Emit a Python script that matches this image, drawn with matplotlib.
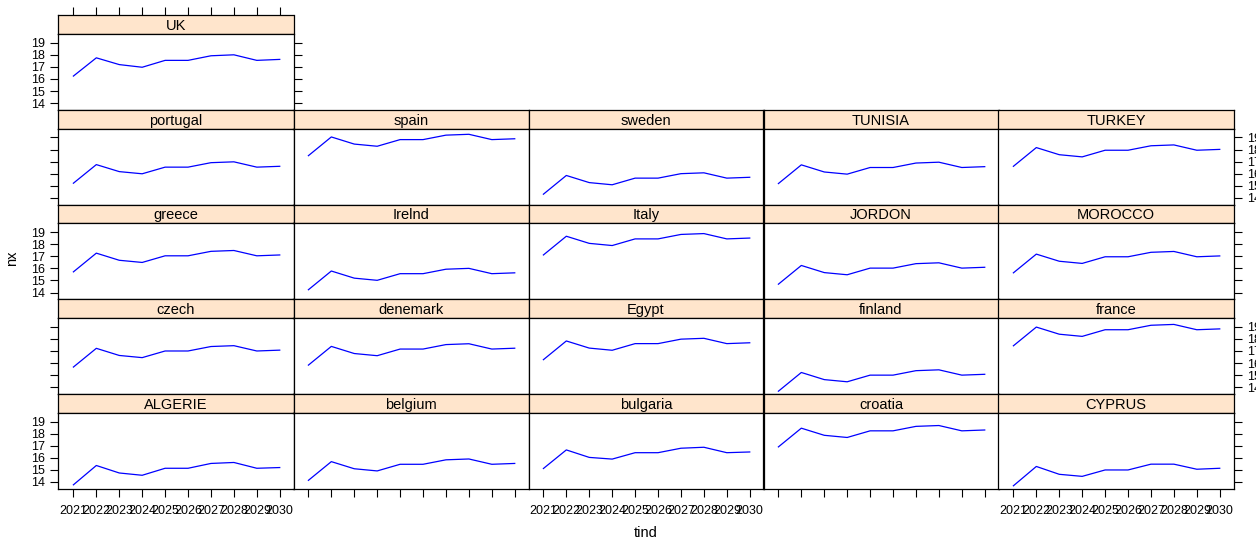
import matplotlib
matplotlib.use("Agg")
import matplotlib.pyplot as plt

plt.rcParams["font.family"] = ["Liberation Sans", "DejaVu Sans"]

# Données : années et séries nx par pays
tind = [2021, 2022, 2023, 2024, 2025, 2026, 2027, 2028, 2029, 2030]

ALGERIE = [13.76, 15.36, 14.74, 14.55, 15.13, 15.13, 15.53, 15.61, 15.13, 15.19]
belgium = [14.13, 15.68, 15.09, 14.91, 15.46, 15.46, 15.83, 15.90, 15.46, 15.53]
bulgaria = [15.11, 16.65, 16.03, 15.89, 16.42, 16.42, 16.79, 16.87, 16.42, 16.48]
croatia = [16.90, 18.45, 17.86, 17.68, 18.23, 18.23, 18.60, 18.67, 18.23, 18.30]
CYPRUS = [13.68, 15.28, 14.63, 14.46, 14.99, 14.99, 15.47, 15.47, 15.05, 15.13]
czech = [15.67, 17.22, 16.63, 16.45, 17.00, 17.00, 17.37, 17.44, 17.00, 17.07]
denemark = [15.83, 17.38, 16.79, 16.61, 17.16, 17.16, 17.53, 17.60, 17.16, 17.23]
Egypt = [16.28, 17.83, 17.24, 17.06, 17.61, 17.61, 17.98, 18.05, 17.61, 17.68]
finland = [13.67, 15.22, 14.63, 14.45, 15.00, 15.00, 15.37, 15.44, 15.00, 15.07]
france = [17.43, 18.98, 18.39, 18.21, 18.76, 18.76, 19.13, 19.20, 18.76, 18.83]
greece = [15.71, 17.26, 16.67, 16.49, 17.04, 17.04, 17.41, 17.48, 17.04, 17.11]
Irelnd = [14.23, 15.78, 15.19, 15.01, 15.56, 15.56, 15.93, 16.00, 15.56, 15.63]
Italy = [17.11, 18.66, 18.07, 17.89, 18.44, 18.44, 18.81, 18.88, 18.44, 18.51]
JORDON = [14.69, 16.24, 15.65, 15.47, 16.02, 16.02, 16.39, 16.46, 16.02, 16.09]
MOROCCO = [15.63, 17.18, 16.59, 16.41, 16.96, 16.96, 17.33, 17.40, 16.96, 17.03]
portugal = [15.21, 16.75, 16.17, 15.99, 16.54, 16.54, 16.91, 16.98, 16.54, 16.61]
spain = [17.49, 19.04, 18.45, 18.27, 18.82, 18.82, 19.19, 19.26, 18.82, 18.89]
sweden = [14.30, 15.85, 15.26, 15.08, 15.63, 15.63, 16.00, 16.07, 15.63, 15.70]
TUNISIA = [15.18, 16.73, 16.14, 15.96, 16.51, 16.51, 16.88, 16.95, 16.51, 16.58]
TURKEY = [16.61, 18.16, 17.57, 17.39, 17.94, 17.94, 18.31, 18.38, 17.94, 18.01]
UK = [16.24, 17.75, 17.19, 16.97, 17.54, 17.54, 17.92, 18.00, 17.54, 17.62]

yticks = [14, 15, 16, 17, 18, 19]

# Disposition lattice : ligne du haut en premier
rows = [
    [("UK", UK)],
    [("portugal", portugal), ("spain", spain), ("sweden", sweden),
     ("TUNISIA", TUNISIA), ("TURKEY", TURKEY)],
    [("greece", greece), ("Irelnd", Irelnd), ("Italy", Italy),
     ("JORDON", JORDON), ("MOROCCO", MOROCCO)],
    [("czech", czech), ("denemark", denemark), ("Egypt", Egypt),
     ("finland", finland), ("france", france)],
    [("ALGERIE", ALGERIE), ("belgium", belgium), ("bulgaria", bulgaria),
     ("croatia", croatia), ("CYPRUS", CYPRUS)],
]

W, H = 1256, 539
fig = plt.figure(figsize=(W / 100, H / 100), dpi=100)


def rect(x, y, w, h):
    return [x / W, 1 - (y + h) / H, w / W, h / H]


left, colw = 58.5, 235.0
top, rowh, striph = 15.3, 94.7, 18.5
xlim = (2020.35, 2030.6)
ylim = (13.43, 19.74)
tick_kw = dict(direction="out", length=6, width=0.8, labelsize=9, colors="black")

n_rows = len(rows)
for r, row in enumerate(rows):
    ytop = top + r * rowh
    for c, (name, vals) in enumerate(row):
        x0 = left + c * colw
        # bandeau (strip)
        sax = fig.add_axes(rect(x0, ytop, colw, striph))
        sax.set_facecolor("#FFE5CC")
        sax.set_xlim(xlim)
        sax.set_ylim(0, 1)
        sax.text(0.5, 0.42, name, transform=sax.transAxes, ha="center",
                 va="center", fontsize=10.5)
        sax.set_yticks([])
        if r == 0:
            sax.set_xticks(tind)
            sax.tick_params(axis="x", bottom=False, top=True, labelbottom=False,
                            labeltop=False, **tick_kw)
        else:
            sax.set_xticks([])
        for sp in sax.spines.values():
            sp.set_linewidth(0.9)

        # panneau
        ax = fig.add_axes(rect(x0, ytop + striph, colw, rowh - striph))
        ax.plot(tind, vals, color="blue", lw=0.9)
        ax.set_xlim(xlim)
        ax.set_ylim(ylim)
        for sp in ax.spines.values():
            sp.set_linewidth(0.9)

        # axe y : gauche sur la 1re colonne, droite sur la dernière
        ax.set_yticks(yticks)
        odd = (r % 2 == 0)
        show_left = (c == 0)
        show_right = (c == len(row) - 1)
        ax.tick_params(axis="y", left=show_left, right=show_right,
                       labelleft=show_left and odd,
                       labelright=show_right and not odd, pad=4, **tick_kw)

        # axe x : seulement en bas
        ax.set_xticks(tind)
        if r == n_rows - 1:
            ax.tick_params(axis="x", bottom=True, top=False,
                           labelbottom=(c % 2 == 0), pad=6, **tick_kw)
            ax.set_xticklabels([str(t) for t in tind])
        else:
            ax.tick_params(axis="x", bottom=False, top=False, labelbottom=False)

fig.text(12 / W, 1 - 258 / H, "nx", rotation=90, ha="center", va="center",
         fontsize=10.5)
fig.text(646 / W, 1 - 533 / H, "tind", ha="center", va="center", fontsize=10.5)

fig.savefig("out.png", dpi=100)
